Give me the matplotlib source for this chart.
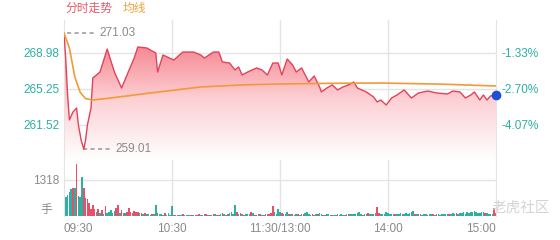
import numpy as np
import matplotlib
matplotlib.use('Agg')
import matplotlib.pyplot as plt
from matplotlib.colors import LinearSegmentedColormap

plt.rcParams['font.family'] = ['Liberation Sans', 'Noto Sans CJK SC', 'DejaVu Sans']

# price line, minute index from 09:30 (0) to 15:00 (240)
minutes = [0, 1, 2, 3, 5, 7, 8, 9.5, 11, 12, 13, 15, 16, 20, 24, 28, 32, 35, 39, 41,
           46, 51, 52, 55, 61, 66, 72, 76, 78, 83, 86, 88, 92, 95, 97, 99, 102, 107,
           110, 113, 116, 119, 121, 124, 127, 129, 132, 136, 139, 142, 143, 146, 149,
           152, 155, 158, 161, 163, 168, 172, 174, 176, 179, 182, 185, 189, 193, 197,
           202, 207, 213, 216, 220, 223, 226, 228, 231, 233, 235, 237, 240]
prices = [271.03, 268.25, 264.63, 262.04, 262.87, 263.28, 261.52, 259.97, 259.01, 259.97,
          261.52, 263.28, 266.39, 267.01, 269.39, 267.01, 265.35, 266.70, 268.46, 269.60,
          269.50, 268.98, 267.01, 268.77, 268.25, 269.08, 269.08, 268.77, 268.46, 269.08,
          269.08, 268.05, 267.94, 267.22, 267.53, 266.70, 267.01, 267.43, 267.22, 266.70,
          267.94, 267.94, 266.70, 268.36, 267.74, 267.01, 267.43, 265.98, 266.60, 265.46,
          264.94, 265.35, 265.67, 265.15, 265.46, 265.67, 265.98, 265.35, 264.94, 264.42,
          263.90, 264.11, 263.59, 264.32, 264.63, 265.15, 264.32, 264.84, 265.04, 264.84,
          264.73, 265.04, 264.94, 264.32, 264.63, 264.94, 264.11, 264.63, 264.11, 264.53,
          264.63]

# average price line
avg_minutes = [0, 3, 6, 9, 12, 16, 23, 38, 48, 76, 100, 120, 150, 176, 210, 240]
avg_prices = [271.03, 269.50, 266.50, 264.90, 264.25, 264.11, 264.25, 264.60, 264.84,
              265.46, 265.68, 265.77, 265.84, 265.87, 265.75, 265.56]

# volume per minute (0..240) and colour per bar (g = down, r = up)
volumes = [853, 707, 769, 891, 976, 1013, 1013, 1903, 732, 707,
           1440, 1013, 647, 610, 463, 244, 403, 244, 159, 244,
           98, 220, 73, 378, 122, 159, 220, 98, 195, 281,
           403, 98, 220, 122, 98, 159, 281, 134, 98, 195,
           134, 159, 98, 98, 73, 98, 61, 73, 24, 61,
           73, 403, 98, 73, 61, 24, 98, 49, 98, 24,
           366,
           40, 30, 50, 25, 35, 60, 45, 30, 20, 40,
           35, 50, 30, 45, 60, 40, 30, 55, 70, 45,
           30, 50, 90, 60, 40, 35, 80, 110, 60, 50,
           70, 120, 160, 90, 400, 140, 60, 110, 80, 50,
           60, 90, 70, 160, 100, 50, 40, 60, 80, 45,
           50, 70, 90, 60, 120, 366, 130, 90, 250, 150,
           110, 80, 70, 160, 90, 60, 80, 50, 70, 60,
           40, 60, 80, 100, 130, 70, 50, 60, 40, 70,
           80, 100, 60, 50, 40, 70, 60, 50, 40, 30,
           50, 60, 40, 70, 50, 40, 60, 80, 70, 90,
           60, 80, 100, 130, 70, 50, 60, 90, 120, 80,
           60, 90, 120, 340, 110, 70, 90, 80, 150, 100,
           60, 80, 70, 90, 60, 70, 100, 80, 90, 120,
           80, 100, 130, 200, 90, 70, 60, 80, 50, 70,
           60, 50, 70, 60, 80, 50, 60, 70, 50, 80,
           60, 70, 90, 80, 60, 100, 80, 120, 90, 110,
           100, 130, 90, 150, 110, 130, 160, 200, 140, 120,
           100, 130, 150, 120, 100, 90, 80, 60, 290, 110]
vol_dirs = ("gggggrgrgg" "grrrrrrrgr" "grgrggggg r" "rgrrgrrrgr" "rrgrgrgggr"
            "ggrgggrggg" "g"
            "rgrggrgrgg" "rggrrgrgrr" "grrgrrgrgg" "rggggrgrgr" "gggrgrrgrg"
            "grgrrrgggg" "rrggrgrggr" "ggrgggrrgg" "rgggrgggrg" "grgggrgrgg"
            "gggggrggrg" "grgrrggggg" "gggrgggrgg" "ggggrgrggg" "grggrgrggg"
            "gggrgggrgg" "gggggggggg" "gggrggggrr").replace(" ", "")

high_price, low_price = 271.03, 259.01
left_ticks = [261.52, 265.25, 268.98]
left_labels = ['261.52', '265.25', '268.98']
right_labels = ['-4.07%', '-2.70%', '-1.33%']
time_ticks = [0, 60, 120, 180, 240]
time_labels = ['09:30', '10:30', '11:30/13:00', '14:00', '15:00']
vol_tick = 1318

teal = '#2bb0a2'
red_line = '#e2435b'
grid_c = '#e4e4e4'
grey = '#8a8a8a'
ymin, ymax = 257.89, 272.40

fig = plt.figure(figsize=(5.6, 2.4), dpi=100)
ax = fig.add_axes([64 / 560, 1 - 160 / 240, 432 / 560, 140 / 240])
axv = fig.add_axes([64 / 560, 1 - 216 / 240, 432 / 560, 56 / 240])

for a in (ax, axv):
    a.set_xlim(0, 240)
    for s in ('top', 'bottom'):
        a.spines[s].set_visible(False)
    for s in ('left', 'right'):
        a.spines[s].set_color(grid_c)
    a.tick_params(length=0)
    for t in time_ticks[1:4]:
        a.axvline(t, color=grid_c, lw=1, zorder=0)

# price panel
ax.set_ylim(ymin, ymax)
for v in left_ticks:
    ax.axhline(v, color=grid_c, lw=1, zorder=0)
ax.set_xticks([])
ax.set_yticks(left_ticks)
ax.set_yticklabels(left_labels, color=teal, fontsize=8.5)
ax2 = ax.twinx()
ax2.set_ylim(ymin, ymax)
ax2.set_yticks(left_ticks)
ax2.set_yticklabels(right_labels, color=teal, fontsize=8.5)
ax2.tick_params(length=0, pad=4)
for s in ax2.spines.values():
    s.set_visible(False)

poly = ax.fill_between(minutes, prices, ymin, color='none', lw=0)
cmap = LinearSegmentedColormap.from_list('f', ['#ffffff', '#fcd0d4', '#f57d88'])
grad = np.linspace(1, 0, 256).reshape(-1, 1)
im = ax.imshow(grad, extent=[0, 240, ymin, 270.5], aspect='auto', cmap=cmap,
               origin='upper', zorder=1)
im.set_clip_path(poly.get_paths()[0], transform=ax.transData)
ax.set_ylim(ymin, ymax)
ax.set_xlim(0, 240)

ax.plot(minutes, prices, color=red_line, lw=1, zorder=3)
ax.plot(avg_minutes, avg_prices, color='#f39a36', lw=1.2, zorder=4)
ax.plot(minutes[-1], prices[-1], 'o', color='#1f50d6', ms=6, zorder=5, clip_on=False)

# high / low marks
ax.plot([1.5, 17], [high_price, high_price], color='#a0a0a0', lw=1.2, ls=(0, (2.5, 2)))
ax.text(19.5, high_price, '271.03', color=grey, fontsize=8.5, va='center')
ax.plot([10.5, 25.5], [low_price, low_price], color='#a0a0a0', lw=1.2, ls=(0, (2.5, 2)))
ax.text(28.5, low_price, '259.01', color=grey, fontsize=8.5, va='center')

# volume panel
colors = [teal if c == 'g' else '#e8506a' for c in vol_dirs]
axv.bar(range(len(volumes)), volumes, width=0.8, color=colors, lw=0)
axv.set_ylim(0, 2050)
axv.axhline(vol_tick, color=grid_c, lw=1, zorder=0)
axv.set_yticks([vol_tick])
axv.set_yticklabels([str(vol_tick)], color=grey, fontsize=8.5)
axv.set_xticks(time_ticks)
axv.set_xticklabels(time_labels, color=grey, fontsize=8.5)
lbls = axv.get_xticklabels()
lbls[0].set_ha('left')
lbls[-1].set_ha('right')
axv.tick_params(axis='x', pad=5)
fig.text(52 / 560, 1 - 210 / 240, '手', color=grey, fontsize=8.5, ha='right', va='center')

# header and watermark
fig.text(65 / 560, 1 - 9 / 240, '分时走势', color='#e35a6c', fontsize=8.5, va='center')
fig.text(123 / 560, 1 - 9 / 240, '均线', color='#f0a13c', fontsize=8.5, va='center')
fig.text(550 / 560, 1 - 208 / 240, '老虎社区', color='#d4d4d4', fontsize=10.5,
         ha='right', va='center')

fig.savefig('out.png', dpi=100)
